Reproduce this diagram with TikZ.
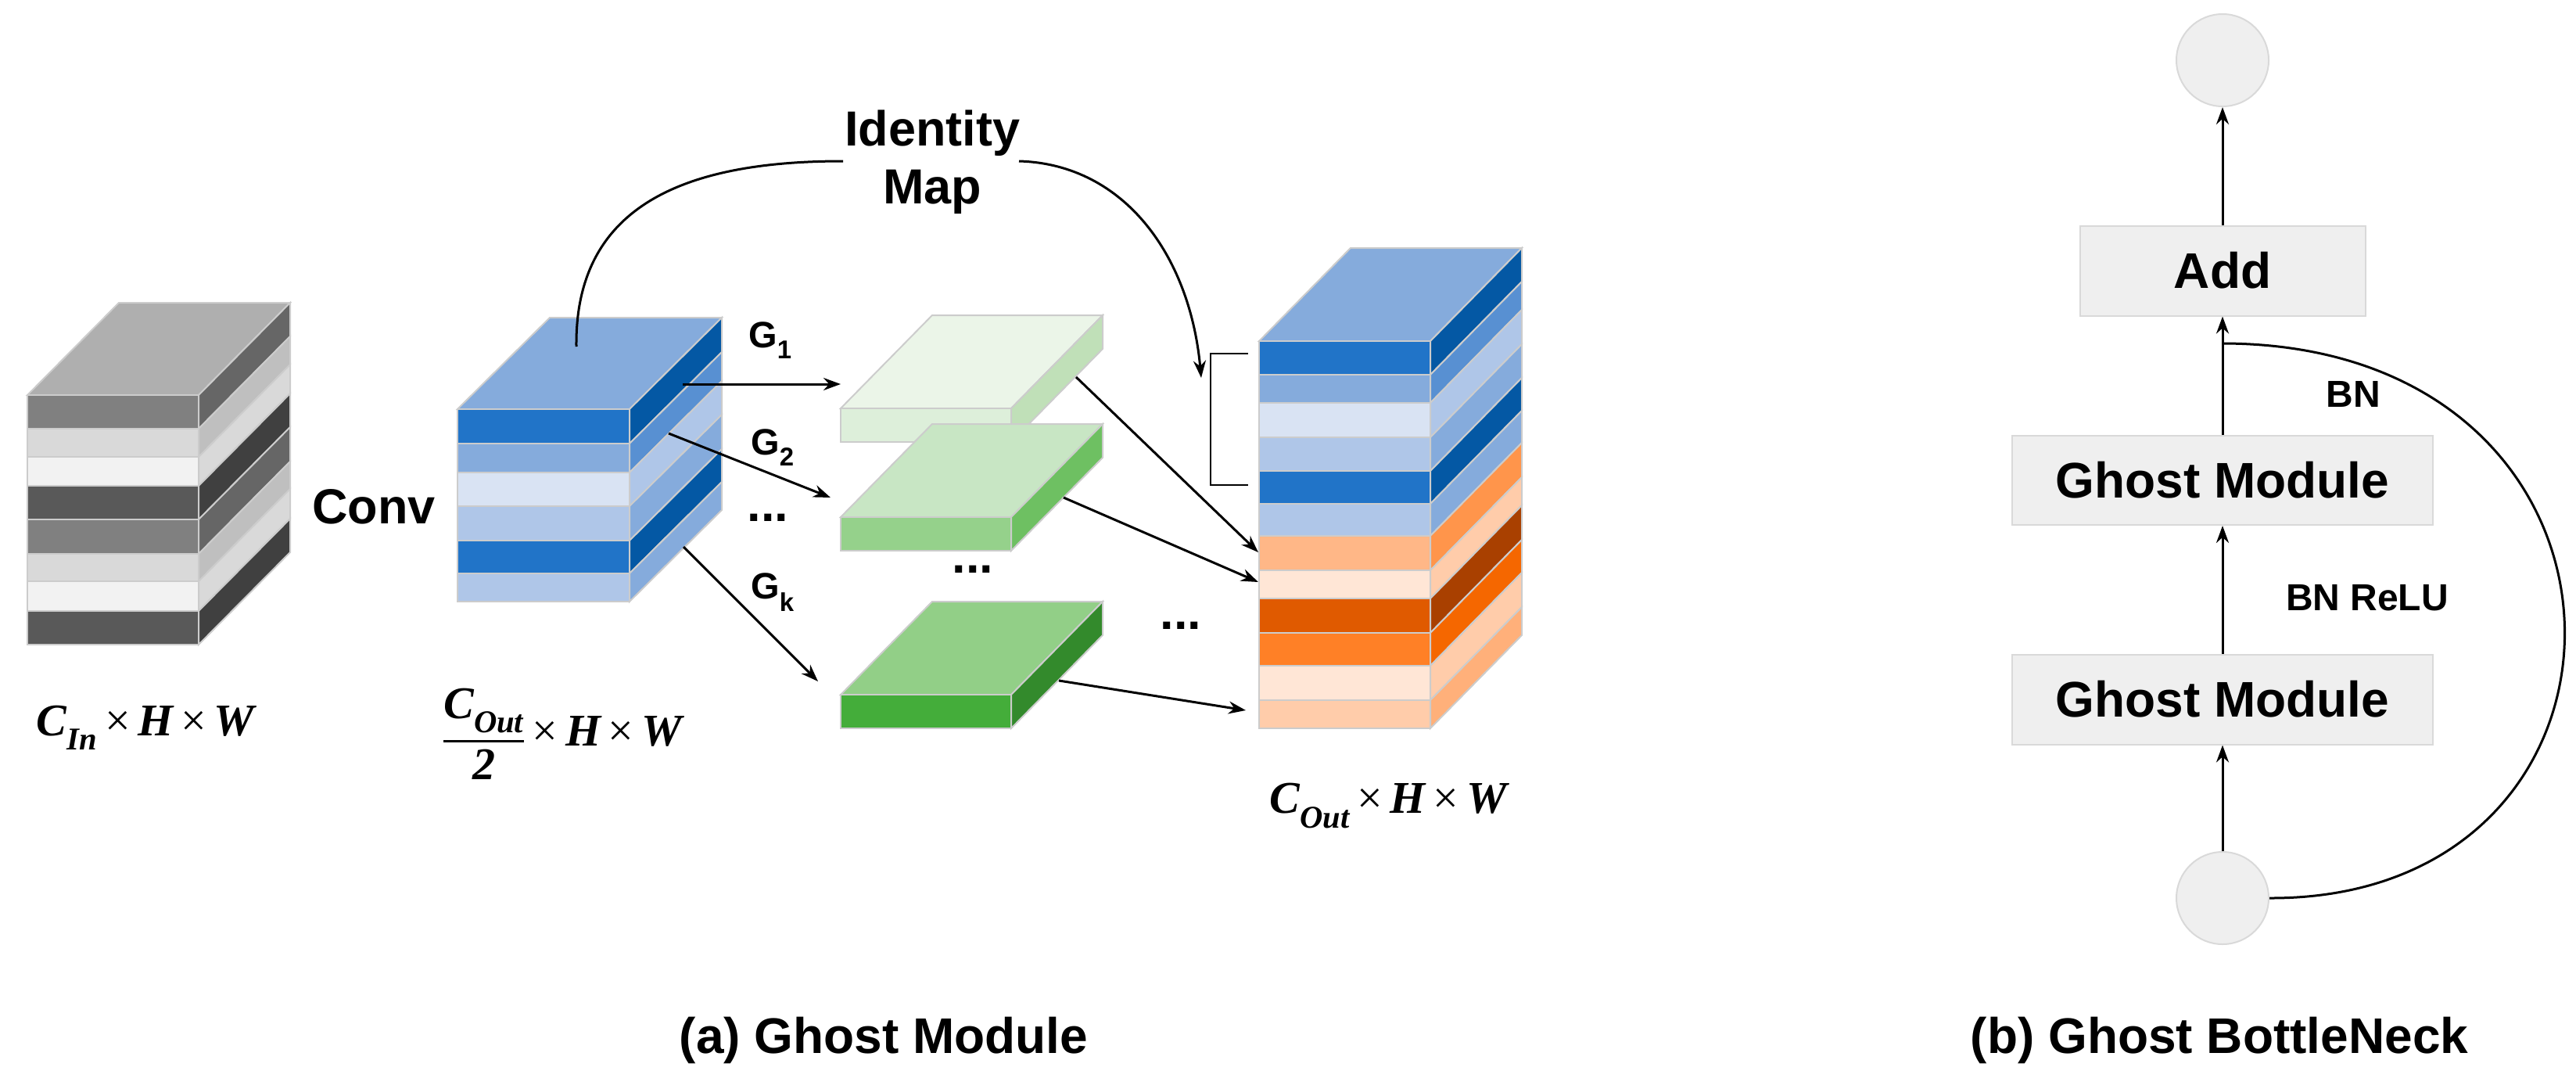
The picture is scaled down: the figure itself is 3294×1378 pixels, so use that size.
\documentclass[tikz,border=0pt]{standalone}
\usepackage{fontspec}
\setmainfont{Liberation Sans}
\newfontfamily\tnr{Liberation Serif}
\usetikzlibrary{arrows.meta}
\newcommand{\blk}[6]{%
  % #1 x, #2 w, #3 dx, #4 dy, #5 top colour, #6 list ytop/ybot/front/side
  \foreach \ya/\yb/\fc/\sc [count=\i] in {#6}{%
    \definecolor{cf}{HTML}{\fc}\definecolor{cs}{HTML}{\sc}%
    \ifnum\i=1
      \definecolor{ct}{HTML}{#5}%
      \filldraw[lay,fill=ct] (#1,\ya) -- ++(#3,#4) -- ++(#2,0) -- (#1+#2,\ya) -- cycle;
    \fi
    \filldraw[lay,fill=cf] (#1,\ya) rectangle (#1+#2,\yb);
    \filldraw[lay,fill=cs] (#1+#2,\ya) -- ++(#3,#4) -- ($(#1+#2,\yb)+(#3,#4)$) -- (#1+#2,\yb) -- cycle;
  }}
\usetikzlibrary{calc}
\begin{document}
\begin{tikzpicture}[x=1pt,y=-1pt,
  lay/.style={draw={rgb,255:red,204;green,204;blue,204},line width=2pt},
  arr/.style={line width=3pt,-{Stealth[length=22pt,width=16pt]}},
  lbl/.style={font=\bfseries\fontsize{63}{70}\selectfont,inner sep=0},
  glbl/.style={font=\bfseries\fontsize{47}{50}\selectfont,inner sep=0},
  mth/.style={font=\tnr\bfseries\itshape\fontsize{58}{62}\selectfont,inner sep=0},
  box/.style={draw={rgb,255:red,217;green,217;blue,217},fill={rgb,255:red,239;green,239;blue,239},line width=2pt,font=\bfseries\fontsize{64}{70}\selectfont},
  circ/.style={circle,draw={rgb,255:red,217;green,217;blue,217},fill={rgb,255:red,239;green,239;blue,239},line width=2pt,minimum size=118pt,inner sep=0}]
\useasboundingbox (0,0) rectangle (3294,1378);
% gray input block
\blk{35}{219}{117}{-118}{AFAFAF}{505/548/808080/666666,548/584/D9D9D9/BFBFBF,584/621/F2F2F2/D9D9D9,621/664/595959/404040,664/708/808080/666666,708/743/D9D9D9/BFBFBF,743/781/F2F2F2/D9D9D9,781/824/595959/404040}
% blue block
\blk{585}{220}{118}{-117}{85ABDC}{523/567/2174C8/0458A4,567/604/85ABDC/5890D2,604/647/D9E3F3/AFC6E8,647/691/AFC6E8/85ABDC,691/733/2174C8/0458A4,733/769/AFC6E8/85ABDC}
% green slabs
\blk{1075}{218}{117}{-119}{EBF5E8}{522/565/DDEFDA/C0E0B8}
\blk{1075}{218}{117}{-119}{C8E6C4}{661/704/95D18B/6EC062}
\blk{1075}{218}{117}{-119}{92CF87}{888/931/44AD3A/338A2C}
% output block
\blk{1610}{219}{117}{-119}{85ABDC}{436/479/2174C8/0458A4,479/515/85ABDC/5890D2,515/559/D9E3F3/AFC6E8,559/602/AFC6E8/85ABDC,602/644/2174C8/0458A4,644/685/AFC6E8/85ABDC,685/729/FFB787/FF954B,729/765/FFE6D6/FFCCAA,765/809/E05A00/A94000,809/851/FF8026/F56700,851/895/FFE6D6/FFCCAA,895/931/FFCCAA/FFB07A}
% texts
\node[lbl] (conv) at (478,648) {Conv};
\node[lbl,align=center] (idm) at (1192,207) {Identity\\[4pt]Map};
\node[glbl] (g1) at (985,435) {G\textsubscript{1}};
\node[glbl] (g2) at (988,572) {G\textsubscript{2}};
\node[glbl] (gk) at (988,757) {G\textsubscript{k}};
\node[lbl] (d1) at (982,662) {...};
\node[lbl] (d2) at (1244,728) {...};
\node[lbl] (d3) at (1510,800) {...};
\node[mth] (cin) at (186,930) {C\textsubscript{In}\,{\upshape\mdseries ×}\,H\,{\upshape\mdseries ×}\,W};
\node[mth,anchor=west] (chalf) at (566,938) {$\displaystyle{\hbox{C\textsubscript{Out}}\above 3pt\hbox{2}}$\,{\upshape\mdseries ×}\,H\,{\upshape\mdseries ×}\,W};
\node[mth] (cout) at (1775,1030) {C\textsubscript{Out}\,{\upshape\mdseries ×}\,H\,{\upshape\mdseries ×}\,W};
\node[font=\bfseries\fontsize{64}{70}\selectfont] (capa) at (1130,1330) {(a) Ghost Module};
\node[font=\bfseries\fontsize{64}{70}\selectfont] (capb) at (2838,1330) {(b) Ghost BottleNeck};
% connector coordinates
\coordinate (bs) at (737,443); \coordinate (il) at (1078,206); \coordinate (ir) at (1303,206); \coordinate (ie) at (1536,483);
\coordinate (a1) at (873,491); \coordinate (b1) at (1075,491);
\coordinate (a2) at (855,554); \coordinate (b2) at (1062,636);
\coordinate (a3) at (874,699); \coordinate (b3) at (1046,871);
\coordinate (s1) at (1376,482); \coordinate (t1) at (1609,706);
\coordinate (s2) at (1360,636); \coordinate (t2) at (1609,744);
\coordinate (s3) at (1354,870); \coordinate (t3) at (1593,908);
\draw[line width=3pt] (bs) .. controls (735,260) and (880,206) .. (il);
\draw[arr] (ir) .. controls (1440,210) and (1522,330) .. (ie);
\draw[arr] (a1) -- (b1); \draw[arr] (a2) -- (b2); \draw[arr] (a3) -- (b3);
\draw[arr] (s1) -- (t1); \draw[arr] (s2) -- (t2); \draw[arr] (s3) -- (t3);
\coordinate (k1) at (1596,452); \coordinate (k2) at (1596,620);
\draw[line width=2.5pt] (k1) -- ++(-48,0) |- (k2);
% right panel
\node[circ] (top) at (2842,77) {};
\node[circ] (bot) at (2842,1148) {};
\node[box,minimum width=365pt,minimum height=115pt] (add) at (2842,346) {Add};
\node[box,minimum width=538pt,minimum height=114pt] (gm1) at (2842,614) {Ghost Module};
\node[box,minimum width=538pt,minimum height=115pt] (gm2) at (2842,894) {Ghost Module};
\node[font=\bfseries\fontsize{48}{50}\selectfont] (bn) at (3009,504) {BN};
\node[font=\bfseries\fontsize{48}{50}\selectfont] (bnr) at (3027,764) {BN ReLU};
\coordinate (jn) at (2842,439);
\draw[arr] (bot) -- (gm2);
\draw[arr] (gm2) -- (gm1);
\draw[arr] (gm1) -- (add);
\draw[arr] (add) -- (top);
\draw[line width=3pt] (bot.east) .. controls (3415,1150) and (3415,440) .. (jn);
\end{tikzpicture}
\end{document}
